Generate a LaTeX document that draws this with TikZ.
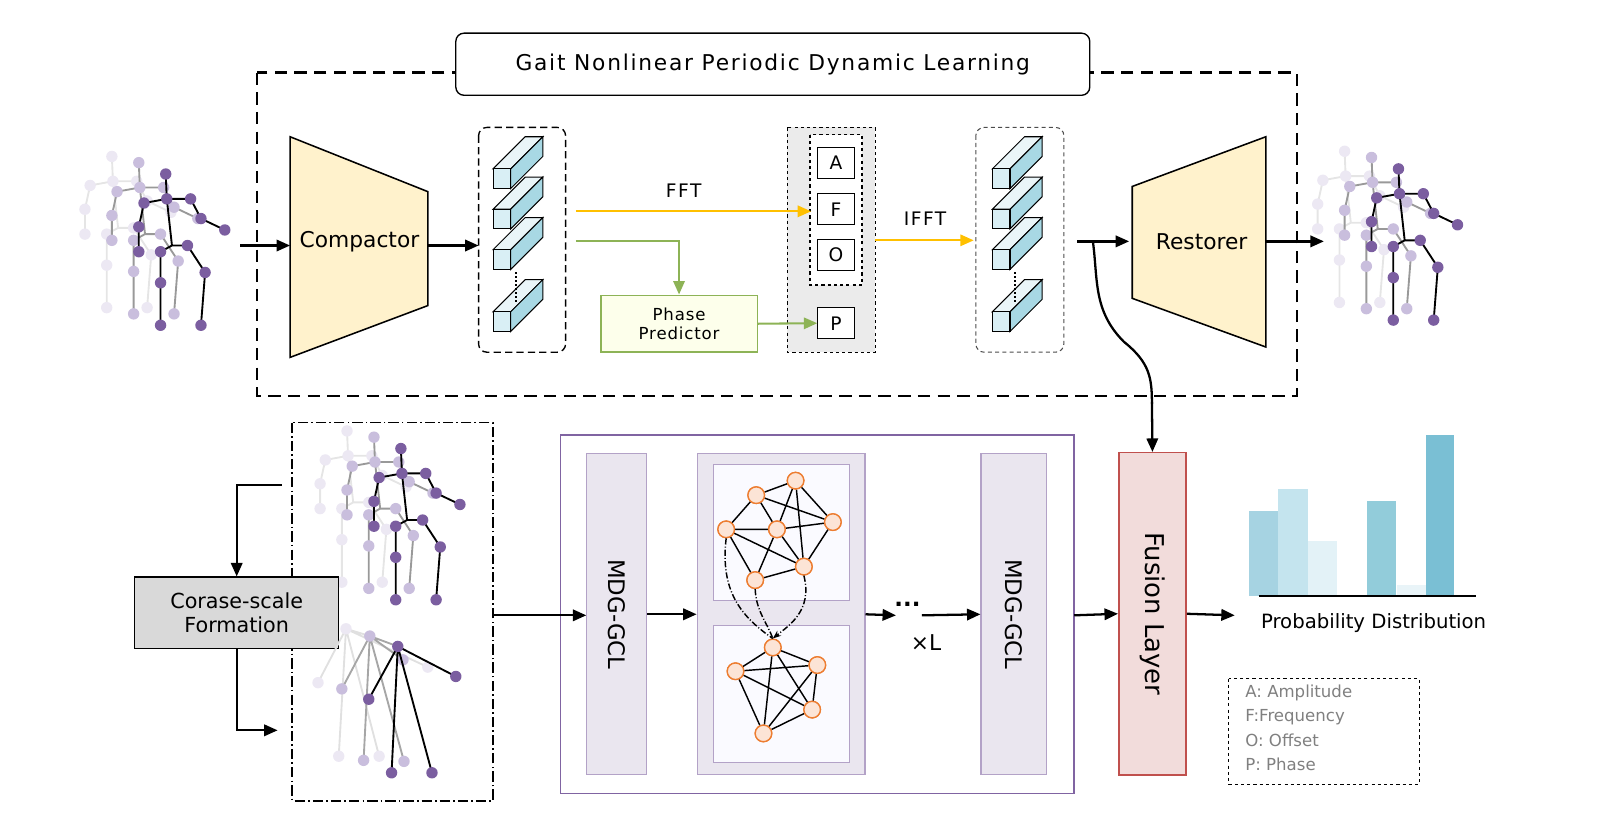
\documentclass[tikz,border=0pt]{standalone}
\usepackage{fontspec}
\setmainfont{DejaVu Sans}
\usetikzlibrary{arrows.meta,calc}
\definecolor{dpur}{HTML}{7B5EA0}
\definecolor{mpur}{HTML}{C9BEDD}
\definecolor{lpur}{HTML}{ECE8F3}
\definecolor{yel}{HTML}{FFC000}
\definecolor{grn}{HTML}{8DB356}
\definecolor{boxp}{HTML}{EAE6EF}
\definecolor{boxpb}{HTML}{B3A2C7}
\definecolor{bigp}{HTML}{8064A2}
\definecolor{orng}{HTML}{ED7D31}
\definecolor{ofill}{HTML}{FCE4D6}
\definecolor{cfront}{HTML}{D9EFF5}
\definecolor{cside}{HTML}{A8D8E4}
\definecolor{ctop}{HTML}{EAF5F8}
\definecolor{trap}{HTML}{FFF2CC}
\definecolor{fusd}{HTML}{C0504D}
\definecolor{fusf}{HTML}{F2DCDB}
\definecolor{bA}{HTML}{A6D3E2}
\definecolor{bB}{HTML}{C4E4EE}
\definecolor{bC}{HTML}{E3F2F7}
\definecolor{bD}{HTML}{92CCDA}
\definecolor{bE}{HTML}{E9F4F8}
\definecolor{bF}{HTML}{7ABFD4}
\tikzset{
 arr/.style={-{Triangle[length=13,width=11]},line width=2.2},
 fs/.style={font=\fontsize{#1}{#1}\selectfont},
 gn/.style={circle,draw=orng,fill=ofill,line width=1.3,minimum size=16,inner sep=0},
 ge/.style={line width=1.4},
 lbox/.style={draw,line width=1.1,minimum width=35,minimum height=30,fs=18,fill=white},
 mdg/.style={draw=boxpb,fill=boxp,line width=1},
}
\newcommand{\skel}[4]{%
\begin{scope}[shift={(#1,#2)}]
\coordinate (h) at (-6,-69); \coordinate (n) at (-5,-45);
\coordinate (ls) at (-27,-41); \coordinate (rs) at (18,-45);
\coordinate (re) at (28,-26); \coordinate (rh) at (51,-15);
\coordinate (le) at (-32,-18); \coordinate (lh) at (-32,6);
\coordinate (pv) at (0,0); \coordinate (lp) at (-11,6); \coordinate (rp) at (15,0);
\coordinate (lk) at (-11,36); \coordinate (lf) at (-11,77);
\coordinate (rk) at (32,26); \coordinate (rf) at (28,77);
\draw[#4,line width=1.8] (h)--(n) (ls)--(n)--(rs)--(re)--(rh) (ls)--(le)--(lh)
 (n)--(pv) (lp)--(pv)--(rp) (lp)--(lk)--(lf) (rp)--(rk)--(rf);
\foreach \p in {h,n,ls,rs,re,rh,le,lh,lp,rp,lk,lf,rk,rf} \fill[#3] (\p) circle (5.5);
\end{scope}}
\newcommand{\trio}[2]{%
\skel{#1-52}{#2-17}{lpur}{black!10}
\skel{#1-26}{#2-11}{mpur}{black!40}
\skel{#1}{#2}{dpur}{black}}
\newcommand{\cube}[2]{%
\begin{scope}[shift={(#1,#2)},line width=1]
\draw[fill=ctop] (0,0)--(31,-31)--(48,-31)--(17,0)--cycle;
\draw[fill=cside] (17,0)--(48,-31)--(48,-12)--(17,19)--cycle;
\draw[fill=cfront] (0,0) rectangle (17,19);
\end{scope}}
\begin{document}
\begin{tikzpicture}[x=1pt,y=-1pt]
\useasboundingbox (0,0) rectangle (1560,803);
% top dashed
\draw[line width=2,dash pattern=on 12pt off 7pt] (248,70) rectangle (1252,382);
\node[draw,rounded corners=8,fill=white,line width=1.3,minimum width=612,minimum height=60,font=\fontsize{21}{21}\selectfont\addfontfeatures{LetterSpace=8}] (title) at (746,62) {Gait Nonlinear Periodic Dynamic Learning};
% skeletons
\trio{166}{237}
\trio{1356}{232}
\trio{393}{502}
% compactor
\draw[fill=trap,line width=1.5] (280,132)--(413,185)--(413,295)--(280,345)--cycle;
\node[fs=21] (comp) at (347,233) {Compactor};
\coordinate (cl) at (280,237); \coordinate (cr) at (413,237);
\coordinate (sin) at (232,237);
\draw[arr] (sin)--(cl);
\coordinate (b1) at (462,237);
\draw[arr] (cr)--(b1);
% cube box 1
\draw[line width=1.3,rounded corners=8,dash pattern=on 7pt off 4pt] (462,123) rectangle (546,340);
\cube{476}{163}\cube{476}{202}\cube{476}{241}\cube{476}{301}
\draw[dotted,line width=1.8] (498,263)--(498,292);
% amp box
\draw[dashed,fill=black!8,line width=1.3] (760,123) rectangle (845,340);
\draw[dashed,fill=white,line width=1.3] (782,130) rectangle (832,275);
\node[lbox] (A) at (807,157) {A};
\node[lbox] (F) at (807,202) {F};
\node[lbox] (O) at (807,246) {O};
\node[lbox] (P) at (807,312) {P};
% FFT
\coordinate (f1) at (556,204); \coordinate (f2) at (783,204);
\draw[arr,yel,line width=2] (f1)--(f2);
\node[font=\fontsize{18}{18}\selectfont\addfontfeatures{LetterSpace=8}] (fft) at (660,184) {FFT};
\node[draw=grn,fill=green!8!yellow!8!white,line width=1.4,minimum width=151,minimum height=55,align=center,font=\fontsize{16}{19}\selectfont\addfontfeatures{LetterSpace=5}] (pp) at (655.5,312.5) {Phase\\Predictor};
\coordinate (g1) at (556,233);
\draw[arr,grn,line width=2] (g1)-|(pp.north);
\draw[arr,grn,line width=2] (pp.east)--(P.west);
\coordinate (i1) at (845,232); \coordinate (i2) at (940,232);
\draw[arr,yel,line width=2] (i1)--(i2);
\node[font=\fontsize{18}{18}\selectfont\addfontfeatures{LetterSpace=8}] (ifft) at (893,211) {IFFT};
% cube box 2
\draw[line width=1,rounded corners=8,draw=black!70,dash pattern=on 4pt off 3pt] (942,123) rectangle (1027,340);
\cube{958}{163}\cube{958}{202}\cube{958}{241}\cube{958}{301}
\draw[dotted,line width=1.8] (980,263)--(980,292);
% restorer
\draw[fill=trap,line width=1.5] (1093,180)--(1222,132)--(1222,335)--(1093,288)--cycle;
\node[fs=21] (rest) at (1160,233) {Restorer};
\coordinate (r0) at (1040,233); \coordinate (rl) at (1090,233); \coordinate (rr) at (1222,233); \coordinate (rout) at (1278,233);
\draw[arr] (r0)--(rl);
\draw[arr] (rr)--(rout);
% fusion
\node[draw=fusd,fill=fusf,line width=1.5,minimum width=65,minimum height=311] (fus) at (1112.5,592.5) {};
\node[rotate=-90,fs=25] (fust) at (fus.center) {Fusion Layer};
\coordinate (c0) at (1055,233);
\draw[line width=2.2] (c0) .. controls (1060,270) and (1055,300) .. (1085,330) .. controls (1110,350) and (1112,365) .. (1112,390);
\coordinate (c1) at (1112,388);
\draw[arr] (c1)--(fus.north);
% bottom left
\draw[line width=1.6,dash pattern=on 10pt off 3pt on 1.5pt off 3pt] (282,408) rectangle (476,773);
\node[draw,fill=black!15,line width=1.1,minimum width=197,minimum height=69,align=center,font=\fontsize{20}{24}\selectfont] (csf) at (228.5,591.5) {Corase-scale\\Formation};
\coordinate (s1) at (272,468); \coordinate (s2) at (268,705);
\draw[arr] (s1)-|(csf.north);
\draw[arr] (csf.south)|-(s2);
% coarse skeleton
\begin{scope}[line width=1.8]
\draw[black!12] (334,607)--(307,659) (334,607)--(327,730) (334,607)--(366,730) (334,607)--(413,644) (334,607)--(357,614);
\foreach \p in {(307,659),(327,730),(366,730),(413,644),(334,607)} \fill[lpur] \p circle (5.5);
\draw[black!35] (357,614)--(330,665) (357,614)--(351,734) (357,614)--(390,735) (357,614)--(389,637) (357,614)--(384,624);
\foreach \p in {(330,665),(351,734),(390,735),(389,637),(357,614)} \fill[mpur] \p circle (5.5);
\draw[black] (384,624)--(440,653) (384,624)--(356,675) (384,624)--(378,746) (384,624)--(417,746);
\foreach \p in {(384,624),(440,653),(356,675),(378,746),(417,746)} \fill[dpur] \p circle (5.5);
\end{scope}
% MDG area
\draw[draw=bigp,line width=1.5] (541,420) rectangle (1037,766);
\coordinate (m0) at (476,594); \coordinate (m1) at (566,594);
\draw[arr] (m0)--(m1);
\node[mdg,minimum width=58,minimum height=310] (g1b) at (595,593) {};
\node[rotate=-90,fs=22] at (g1b.center) {MDG-GCL};
\node[mdg,minimum width=162,minimum height=310] (gb) at (754,593) {};
\draw[arr] (g1b.east)--(gb.west);
\draw[draw=boxpb,fill=black!1!blue!2!white,line width=1] (689,448) rectangle (820,580);
\draw[draw=boxpb,fill=black!1!blue!2!white,line width=1] (689,604) rectangle (820,736);
\node[gn] (n1) at (730,478) {}; \node[gn] (n2) at (768,464) {};
\node[gn] (n3) at (701,511) {}; \node[gn] (n4) at (750,511) {};
\node[gn] (n5) at (804,504) {}; \node[gn] (n6) at (729,560) {};
\node[gn] (n7) at (776,547) {};
\node[gn] (k1) at (746,625) {}; \node[gn] (k2) at (710,648) {};
\node[gn] (k3) at (789,642) {}; \node[gn] (k4) at (784,685) {};
\node[gn] (k5) at (737,708) {};
\draw[ge] (n1)--(n2) (n1)--(n3) (n1)--(n4) (n1)--(n5) (n2)--(n4) (n2)--(n5) (n2)--(n7) (n3)--(n4) (n3)--(n6) (n3)--(n7) (n4)--(n5) (n4)--(n6) (n4)--(n7) (n5)--(n7) (n6)--(n7);
\draw[ge] (k1)--(k2) (k1)--(k3) (k1)--(k4) (k1)--(k5) (k2)--(k3) (k2)--(k4) (k2)--(k5) (k3)--(k4) (k3)--(k5) (k4)--(k5);
\foreach \q in {n1,n2,n3,n4,n5,n6,n7,k1,k2,k3,k4,k5} \node[gn] at (\q) {};
\draw[line width=1.4,dash pattern=on 6pt off 2pt on 1pt off 2pt] (n3.south) .. controls (695,570) and (715,595) .. (k1.north);
\draw[line width=1.4,dash pattern=on 6pt off 2pt on 1pt off 2pt] (n6.south) .. controls (730,590) and (740,600) .. (k1.north);
\draw[line width=1.4,dash pattern=on 6pt off 2pt on 1pt off 2pt,-{Stealth[length=8]}] (n7.south) .. controls (785,590) and (760,605) .. (k1.north);
\coordinate (d0) at (865,594);
\draw[arr] (gb.east)--(d0);
\node[font=\fontsize{22}{22}\selectfont\bfseries] (dots) at (876,583) {...};
\node[fs=21] (xl) at (894,620) {×L};
\node[mdg,minimum width=63,minimum height=310] (g2b) at (978.5,593) {};
\node[rotate=-90,fs=22] at (g2b.center) {MDG-GCL};
\coordinate (d1) at (890,594);
\draw[arr] (d1)--(g2b.west);
\coordinate (e0) at (1037,594);
\draw[arr] (e0)--(fus.west);
\coordinate (e1) at (1192,594);
\draw[arr] (fus.east)--(e1);
% bars
\fill[bA] (1206,493) rectangle (1234,575);
\fill[bB] (1234,472) rectangle (1263,575);
\fill[bC] (1263,522) rectangle (1291,575);
\fill[bD] (1320,484) rectangle (1348,575);
\fill[bE] (1349,565) rectangle (1377,575);
\fill[bF] (1377,420) rectangle (1404,575);
\draw[line width=2] (1215,575)--(1425,575);
\node[fs=19] (pd) at (1326,601) {Probability Distribution};
% legend
\draw[dashed,line width=1.3] (1186,655) rectangle (1370,757);
\node[anchor=north west,align=left,text=black!50,font=\fontsize{16}{23.5}\selectfont,inner sep=0] (leg) at (1202,661) {A: Amplitude\\F:Frequency\\O: Offset\\P: Phase};
\end{tikzpicture}
\end{document}
